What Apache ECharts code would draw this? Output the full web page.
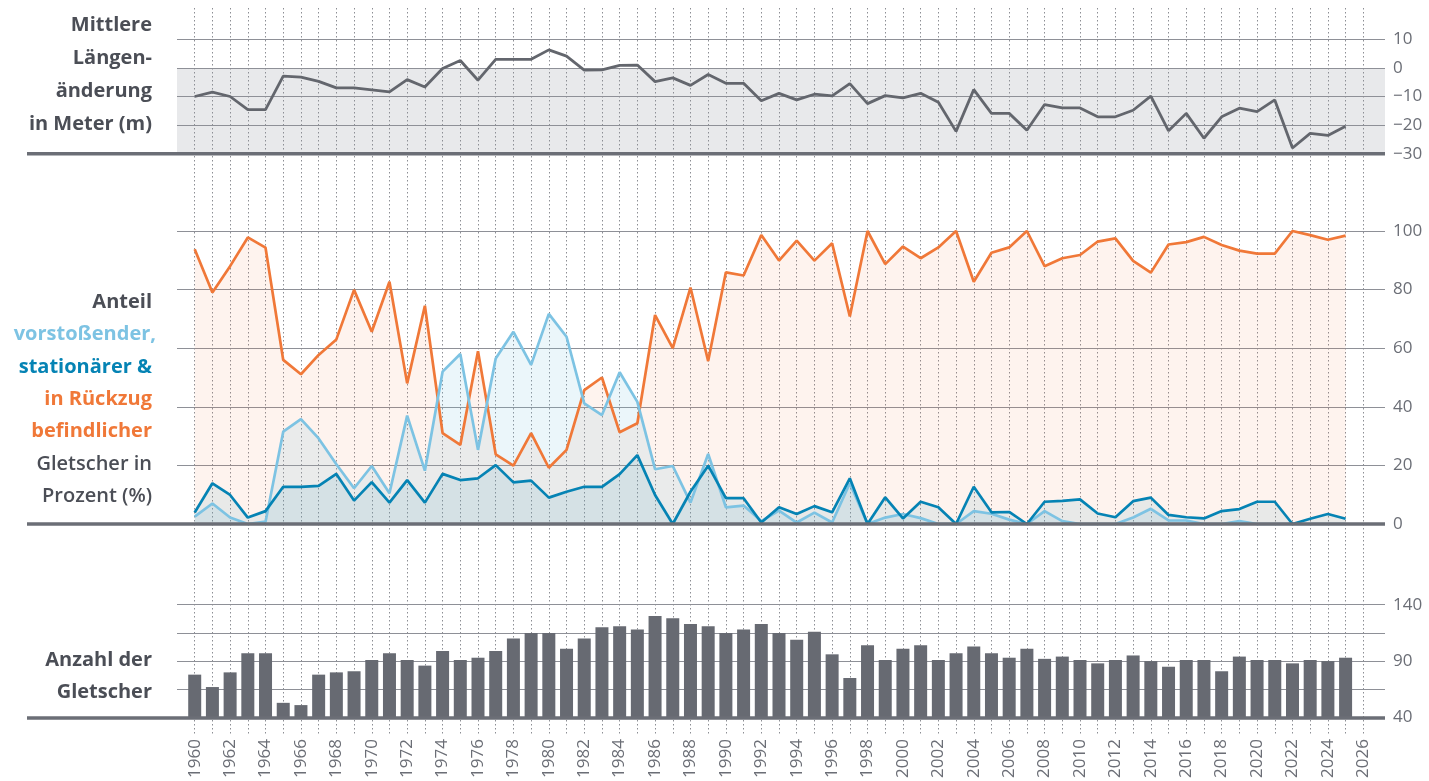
<!DOCTYPE html>
<html>
<head>
<meta charset="utf-8">
<title>Gletscher</title>
<script src="https://cdn.jsdelivr.net/npm/echarts@6/dist/echarts.min.js"></script>
<style>
  html, body { margin: 0; padding: 0; background: #fff; }
  #chart { width: 1429px; height: 781px; }
</style>
</head>
<body>
<div id="chart"></div>
<script>
// Jahre 1960 bis 2026 (Daten bis 2025)
const years = [];
for (let y = 1960; y <= 2026; y++) years.push(String(y));

// mittlere Längenänderung in m
const laengenAenderung = [
  -10, -8.5, -10, -14.6, -14.6, -2.9, -3.2, -4.7, -7, -7,
  -7.7, -8.4, -4.1, -6.7, -0.2, 2.6, -4.3, 3, 3, 3,
  6.3, 4.1, -0.8, -0.7, 0.9, 1, -4.8, -3.5, -6.1, -2.3,
  -5.4, -5.4, -11.5, -8.9, -11.2, -9.2, -9.8, -5.5, -12.5, -9.7,
  -10.5, -8.9, -12, -22.2, -7.6, -15.9, -15.9, -21.8, -12.8, -14,
  -14, -17.1, -17.1, -14.8, -9.9, -22, -15.9, -24.6, -17.1, -14.1,
  -15.3, -11.2, -28, -22.9, -23.6, -20.4
];

// Anteile in %
const rueckzug = [
  93.8, 79, 88, 97.8, 94.3, 56, 51.1, 57.7, 63, 79.9,
  65.6, 82.7, 48, 74.5, 31, 27, 59, 23.8, 19.9, 31,
  19.2, 25.3, 45.7, 50, 31.3, 34.4, 71.3, 60, 80.7, 55.6,
  85.9, 84.8, 98.6, 89.9, 96.7, 89.9, 95.8, 70.8, 100, 88.7,
  94.7, 90.7, 94.4, 100, 82.7, 92.6, 94.4, 100, 88, 90.7,
  91.8, 96.4, 97.5, 89.8, 85.8, 95.4, 96.2, 98, 95.2, 93.3,
  92.3, 92.3, 100, 98.6, 97, 98.4
];
const vorstoss = [
  2.5, 7, 2.2, 0, 0.8, 31.5, 35.8, 29.2, 20.4, 12.2,
  19.8, 10.5, 37, 18.2, 52, 58, 25.3, 56.5, 65.6, 54.3,
  71.7, 63.9, 41.2, 37.2, 51.8, 41.7, 18.7, 19.8, 7.3, 23.9,
  5.7, 6.3, 1, 4.6, 0.5, 3.9, 0.5, 13.9, 0, 2.2,
  3.4, 2, 0, 0, 4.4, 3.5, 1.5, 0, 4.4, 1,
  0, 0, 0, 2.2, 5.2, 1.2, 1.2, 0, 0, 1,
  0, 0, 0, 0, 0, 0
];
const stationaer = [
  3.9, 13.9, 9.9, 2.2, 4.4, 12.7, 12.7, 13, 17.1, 8,
  14.3, 7.3, 15, 7.3, 17.1, 15, 15.6, 20.1, 14.2, 14.8,
  9, 11, 12.7, 12.7, 17, 23.5, 9.9, 0, 11, 19.9,
  8.8, 8.8, 0.5, 5.7, 3.4, 6.1, 4, 15.6, 0, 9.1,
  1.9, 7.6, 5.7, 0, 12.7, 4, 4.1, 0, 7.6, 7.9,
  8.4, 3.6, 2.3, 7.8, 9, 3.1, 2.3, 1.9, 4.4, 5.1,
  7.6, 7.6, 0, 1.8, 3.4, 1.8
];

// Anzahl der beobachteten Gletscher
const anzahl = [
  78, 67, 80, 97, 97, 53, 51, 78, 80, 81,
  91, 97, 91, 86, 99, 91, 93, 99, 110, 115,
  115, 101, 110, 120, 121, 118, 130, 128, 123, 121,
  115, 118, 123, 115, 109, 116, 96, 75, 104, 91,
  101, 104, 91, 97, 103, 97, 93, 101, 92, 94,
  91, 88, 91, 95, 90, 85, 91, 91, 81, 94,
  91, 91, 88, 91, 90, 93
];

const FONT = "'Open Sans', 'Noto Sans', sans-serif";
const GREY_TEXT = '#4b4e56';
const AXIS_GREY = '#6b6e76';
const LINE_GREY = '#8e9097';

const chart = echarts.init(document.getElementById('chart'));

// panel-Geometrie: [top, bottom] in px
const panels = [
  { top: 39.3, bottom: 781 - 153.7 },
  { top: 231, bottom: 781 - 524 },
  { top: 604.7, bottom: 781 - 717.5 }
];

// 0: senkrechte Jahreslinien, 1-3: waagrechte Linien + Achsen, 4-5: Linien-Daten, 6: Balken
const grids = [
  { left: 194.7, right: 65.7, top: 8, bottom: 45 }
];
panels.forEach(p => grids.push({ left: 177, right: 44, top: p.top, bottom: p.bottom }));
grids.push({ left: 194.7, right: 65.7, top: panels[0].top, bottom: panels[0].bottom });
grids.push({ left: 194.7, right: 65.7, top: panels[1].top, bottom: panels[1].bottom });
grids.push({ left: 177, right: 44, top: panels[2].top, bottom: panels[2].bottom });
grids.forEach(g => { g.outerBoundsMode = 'none'; g.containLabel = false; });

// Balken auf Wert-Achse, damit die Ränder wie bei den Linien-Grids liegen
const barData = anzahl.map((v, i) => [Number(years[i]), v]);

const hiddenValueX = i => ({ type: 'value', gridIndex: i, show: false, min: 0, max: 1 });
const hiddenCatX = i => ({ type: 'category', gridIndex: i, show: false, data: years, boundaryGap: false });
const hiddenY = (i, min, max) => ({ type: 'value', gridIndex: i, show: false, min: min, max: max });

const rightY = (i, min, max, interval, formatter, extra) => Object.assign({
  type: 'value', gridIndex: i, position: 'right', min: min, max: max, interval: interval,
  axisLine: { show: false }, axisTick: { show: false },
  axisLabel: { margin: 8, color: AXIS_GREY, fontSize: 17, fontWeight: 500, fontFamily: FONT, formatter: formatter },
  splitLine: { lineStyle: { color: LINE_GREY, width: 1.2 } }
}, extra || {});

const option = {
  animation: false,
  backgroundColor: '#fff',
  grid: grids,
  xAxis: [
    {
      type: 'category', gridIndex: 0, data: years, boundaryGap: false,
      axisLine: { show: false },
      axisTick: { show: false, interval: 0 },
      axisLabel: { interval: 1, rotate: 90, margin: 3, color: AXIS_GREY, fontSize: 17, fontWeight: 500, fontFamily: FONT },
      splitLine: { show: true, interval: 0, lineStyle: { color: '#8c8e94', width: 1, type: [1.5, 2.5] } }
    },
    hiddenValueX(1), hiddenValueX(2), hiddenValueX(3),
    hiddenCatX(4), hiddenCatX(5),
    { type: 'value', gridIndex: 6, show: false, min: 1959, max: 2026 + 21.7 / 17.706 }
  ],
  yAxis: [
    hiddenY(0, 0, 1),
    rightY(1, -30, 10, 10, v => v < 0 ? '\u2212' + Math.abs(v) : String(v), {
      splitArea: { show: true, areaStyle: { color: ['#e8e9eb', '#e8e9eb', '#e8e9eb', 'rgba(0,0,0,0)'] } }
    }),
    rightY(2, 0, 100, 20, v => String(v)),
    rightY(3, 40, 140, 25, v => (v === 40 || v === 90 || v === 140) ? String(v) : ''),
    hiddenY(4, -30, 10),
    hiddenY(5, 0, 100),
    hiddenY(6, 40, 140)
  ],
  series: [
    {
      name: 'Längenänderung', type: 'line', xAxisIndex: 4, yAxisIndex: 4,
      data: laengenAenderung, symbol: 'none', clip: false,
      lineStyle: { color: '#63666d', width: 2.8 }
    },
    {
      name: 'in Rückzug', type: 'line', xAxisIndex: 5, yAxisIndex: 5,
      data: rueckzug, symbol: 'none', clip: false,
      lineStyle: { color: '#f07838', width: 2.7 },
      areaStyle: { color: 'rgba(240,120,60,0.12)' }
    },
    {
      name: 'vorstoßend', type: 'line', xAxisIndex: 5, yAxisIndex: 5,
      data: vorstoss, symbol: 'none', clip: false,
      lineStyle: { color: '#7dc3e3', width: 2.7 },
      areaStyle: { color: 'rgba(125,195,225,0.22)' }
    },
    {
      name: 'stationär', type: 'line', xAxisIndex: 5, yAxisIndex: 5,
      data: stationaer, symbol: 'none', clip: false,
      lineStyle: { color: '#0583b4', width: 2.7 },
      areaStyle: { color: 'rgba(0,125,170,0.12)' }
    },
    {
      name: 'Anzahl', type: 'bar', xAxisIndex: 6, yAxisIndex: 6,
      data: barData, barWidth: 13,
      itemStyle: { color: '#676a72' }
    }
  ],
  graphic: [
    // dicke Grundlinien
    { type: 'line', z: 100, shape: { x1: 27, y1: 153.7, x2: 1385, y2: 153.7 }, style: { stroke: AXIS_GREY, lineWidth: 3.5 } },
    { type: 'line', z: 100, shape: { x1: 27, y1: 524, x2: 1385, y2: 524 }, style: { stroke: AXIS_GREY, lineWidth: 3.5 } },
    { type: 'line', z: 100, shape: { x1: 27, y1: 718, x2: 1385, y2: 718 }, style: { stroke: AXIS_GREY, lineWidth: 3.5 } },
    // Beschriftungen links
    { type: 'text', x: 152, y: 8.5, style: { text: 'Mittlere\nLängen-\nänderung\nin Meter (m)', align: 'right', verticalAlign: 'top', lineHeight: 33, fill: GREY_TEXT, font: '700 20px ' + FONT } },
    { type: 'text', x: 152, y: 285.8, style: { text: 'Anteil', align: 'right', verticalAlign: 'top', lineHeight: 32.4, fill: GREY_TEXT, font: '700 20px ' + FONT } },
    { type: 'text', x: 156, y: 318.2, style: { text: 'vorstoßender,', align: 'right', verticalAlign: 'top', lineHeight: 32.4, fill: '#7dc3e3', font: '700 20px ' + FONT } },
    { type: 'text', x: 152, y: 350.6, style: { text: 'stationärer &', align: 'right', verticalAlign: 'top', lineHeight: 32.4, fill: '#0583b4', font: '700 20px ' + FONT } },
    { type: 'text', x: 152, y: 383, style: { text: 'in Rückzug\nbefindlicher', align: 'right', verticalAlign: 'top', lineHeight: 32.4, fill: '#f07838', font: '700 20px ' + FONT } },
    { type: 'text', x: 152, y: 447.8, style: { text: 'Gletscher in\nProzent (%)', align: 'right', verticalAlign: 'top', lineHeight: 32.4, fill: GREY_TEXT, font: '600 20px ' + FONT } },
    { type: 'text', x: 152, y: 644, style: { text: 'Anzahl der\nGletscher', align: 'right', verticalAlign: 'top', lineHeight: 32, fill: GREY_TEXT, font: '700 20px ' + FONT } }
  ]
};

chart.setOption(option);
</script>
</body>
</html>
